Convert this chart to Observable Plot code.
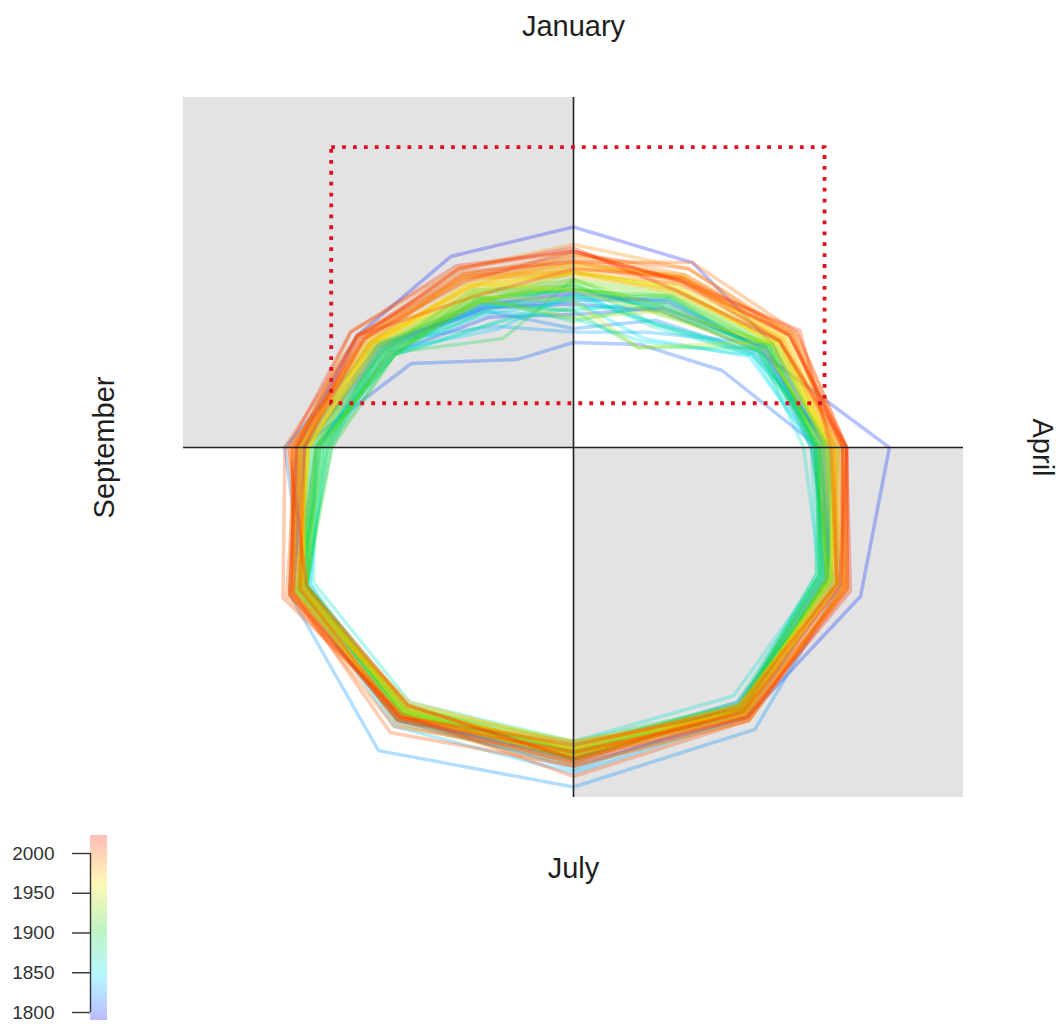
<!DOCTYPE html>
<html>
<head>
<meta charset="utf-8">
<script src="https://cdn.jsdelivr.net/npm/d3@7"></script>
<script src="https://cdn.jsdelivr.net/npm/@observablehq/plot@0.6"></script>
<style>
  html, body { margin: 0; padding: 0; background: #ffffff; }
  #chart { position: relative; width: 1058px; height: 1024px; overflow: hidden;
           font-family: "Liberation Sans", Arial, sans-serif; }
  #main { position: absolute; left: 0; top: 0; }
  #legend { position: absolute; left: 0; top: 826px; }
</style>
</head>
<body>
<div id="chart"><div id="main"></div><div id="legend"></div></div>
<script>
// ---------------- data: radius per month for each sampled year ----------------
const months = ["Jan","Feb","Mar","Apr","May","Jun","Jul","Aug","Sep","Oct","Nov","Dec"];
const years = [1790,1795,1800,1805,1810,1815,1820,1825,1830,1835,
               1840,1845,1850,1855,1860,1865,1870,1875,1880,1885,
               1890,1895,1900,1905,1910,1915,1920,1925,1930,1935,
               1940,1945,1950,1955,1958,1961,1964,1967,1970,1973,
               1976,1979,1982,1985,1988,1991,1994,1997,2000,2003,
               2006,2009,2012,2015,2018];
const jan = [4.4,6.3,4.1,3.8,3.0,4.2,3.4,4.5,3.3,4.3, 4.4,4.2,3.9,3.7,4.3,4.5,4.0,4.7,3.6,4.3,
             4.8,3.9,4.6,4.5,4.5,4.6,4.8,4.7,4.8,5.0, 3.7,4.2,5.0,4.5,5.0,5.2,5.1,5.3,5.0,5.3,
             5.5,4.9,5.1,5.0,5.8,5.2,5.6,5.3,5.5,5.4, 5.3,5.1,5.6,5.6,5.7];
const feb = [4.8,6.1,4.5,4.6,3.4,4.9,4.2,4.6,3.8,4.7, 4.1,3.6,4.9,3.5,4.1,4.0,4.6,4.1,4.8,5.0,
             4.4,3.3,4.5,5.0,4.9,4.7,5.1,5.0,4.6,5.2, 4.5,3.3,5.3,4.4,5.3,5.6,5.2,5.6,5.1,5.5,
             5.6,5.2,5.7,5.4,5.9,5.4,5.7,6.1,5.9,5.6, 5.5,5.6,5.5,5.5,5.2];
const mar = [5.6,5.9,5.5,5.7,4.4,5.6,5.4,5.7,5.9,5.6, 5.3,5.2,5.5,5.3,5.5,5.3,5.6,5.4,5.8,5.5,
             5.8,5.7,5.5,5.9,5.8,5.7,6.0,5.8,5.9,6.1, 5.9,6.1,6.2,5.6,5.9,6.3,6.0,6.2,6.0,6.3,
             6.1,6.1,6.4,6.2,6.5,6.5,6.5,6.6,6.4,6.6, 6.1,6.4,6.7,6.4,6.1];
const apr = [6.5,6.4,8.1,6.2,6.3,6.1,6.6,6.6,6.5,6.3, 6.8,6.2,6.3,6.1,5.9,6.6,6.2,6.2,6.2,6.3,
             6.1,6.4,6.3,6.2,6.3,6.4,6.5,6.3,6.5,6.4, 6.5,6.6,6.5,6.7,6.6,6.8,6.7,6.6,6.6,6.7,
             6.8,6.7,6.9,6.8,6.9,6.7,6.9,7.0,7.0,7.0, 6.9,6.9,6.6,7.0,7.0];
const may = [7.6,7.5,8.5,7.4,7.6,7.7,7.5,7.9,7.8,7.7, 7.6,7.4,7.3,7.2,7.3,7.6,7.4,7.3,7.3,7.2,
             7.6,7.5,7.3,7.5,7.4,7.5,7.6,7.5,7.6,7.5, 7.8,7.8,7.7,7.6,7.7,7.6,7.9,7.8,8.0,7.8,
             8.0,7.7,8.0,7.8,8.1,7.8,8.0,8.1,8.1,8.1, 8.0,7.9,7.8,7.9,8.2];
const jun = [8.6,8.7,8.9,8.5,8.6,8.4,8.6,9.3,8.7,8.9, 8.5,8.8,8.6,8.5,8.2,8.6,8.6,8.4,8.5,8.6,
             8.5,8.7,8.6,8.6,8.5,8.6,8.6,8.7,8.6,8.8, 8.7,8.8,8.8,8.6,8.5,8.8,8.6,8.7,8.9,8.7,
             9.0,8.6,8.9,8.5,8.8,8.5,8.9,8.7,8.9,9.0, 9.0,8.8,8.6,8.7,8.9];
const jul = [8.9,8.8,9.1,8.8,8.9,8.7,9.0,9.7,9.2,9.3, 8.8,8.7,8.8,8.9,8.4,8.8,8.9,8.6,8.6,8.8,
             8.4,8.7,8.9,8.7,8.5,8.6,8.5,8.9,8.7,8.8, 8.6,8.8,8.7,9.0,8.6,8.4,8.8,8.6,8.7,8.8,
             9.1,8.5,8.9,8.6,8.4,9.0,8.9,8.8,8.7,9.1, 9.4,8.7,8.5,8.9,9.0];
const aug = [8.8,9.0,9.0,8.9,9.0,8.8,9.1,10.0,8.9,9.2, 9.0,8.6,8.7,8.9,8.4,8.7,8.8,8.8,8.7,8.6,
             8.6,8.8,8.7,8.5,8.8,8.6,8.5,8.7,8.8,8.7, 8.7,8.9,8.7,9.0,8.6,8.5,8.8,8.6,8.9,8.9,
             9.1,8.4,8.8,8.6,8.9,9.0,8.5,9.2,8.9,9.4, 8.8,9.0,8.9,8.5,8.9];
const sep = [8.0,8.2,8.1,8.2,8.3,7.9,8.0,8.4,7.9,8.1, 7.8,7.9,7.8,7.9,7.7,8.2,7.9,8.0,8.0,7.9,
             8.1,8.2,8.1,7.9,7.9,8.0,8.1,7.9,8.2,8.1, 8.0,8.3,8.0,8.1,8.1,8.0,8.2,7.9,8.3,8.2,
             8.0,8.3,8.4,8.1,8.3,8.4,8.0,8.4,8.5,8.3, 8.6,8.3,8.1,7.9,8.4];
const oct = [6.9,7.1,7.0,6.6,7.0,6.9,7.4,7.1,7.0,6.5, 6.6,6.8,6.4,6.7,6.6,6.4,6.3,6.5,6.2,6.3,
             6.5,6.3,6.6,6.2,6.6,6.4,6.7,6.5,6.8,6.6, 6.8,7.0,6.9,6.8,6.9,7.0,6.8,7.1,7.1,6.8,
             7.0,7.2,7.0,7.3,7.2,7.0,7.1,7.2,7.1,6.9, 7.4,7.2,6.9,7.3,7.1];
const nov = [5.7,6.4,5.8,5.4,4.8,5.6,5.9,5.8,6.0,5.7, 5.5,5.6,5.4,5.3,5.3,5.6,5.3,5.5,5.7,5.5,
             5.4,5.8,5.6,5.3,5.3,5.5,5.6,5.4,5.8,5.9, 5.7,6.0,5.8,6.0,5.9,6.0,6.0,5.9,6.1,5.9,
             6.0,6.1,6.3,6.0,6.2,6.2,6.6,6.4,6.2,6.4, 6.4,6.4,6.2,6.6,6.3];
const dec = [4.7,6.3,4.6,4.3,2.9,4.6,4.5,4.8,4.0,4.6, 3.9,4.4,4.7,4.5,4.1,4.9,4.1,4.5,5.0,4.7,
             3.6,4.8,5.2,4.9,5.1,4.9,4.8,4.8,5.1,4.8, 4.9,5.0,5.0,5.4,5.2,5.1,5.3,5.3,5.3,5.4,
             5.3,5.6,5.5,5.7,5.9,5.6,5.9,5.7,5.7,5.6, 5.8,5.0,5.5,6.0,5.9];

// labels, legend ticks, colours, annotation
const topLabel = ["January"], rightLabel = ["April"], bottomLabel = ["July"], leftLabel = ["September"];
const legendTicks = [1800, 1850, 1900, 1950, 2000];
const yearRange = [1790, 2020];
const rainbow = ["#1010ff", "#00e8ff", "#22d622", "#ffe800", "#ff1a00"];
const highlight = [{x1: -6.2, x2: 6.45, y1: 1.25, y2: 8.57}];
const lim = 10;

// ---------------- build ----------------
const monthly = [jan, feb, mar, apr, may, jun, jul, aug, sep, oct, nov, dec];
const points = [];
years.forEach((year, i) => {
  monthly.forEach((arr, m) => {
    const r = arr[i];
    const a = m * Math.PI / 6;
    points.push({year, month: months[m], x: r * Math.sin(a), y: r * Math.cos(a)});
  });
});

const quadrants = [
  {x1: -lim, x2: 0, y1: 0, y2: lim},
  {x1: 0, x2: lim, y1: -lim, y2: 0}
];

const colorScale = {
  type: "linear",
  domain: d3.quantize(d3.interpolateNumber(yearRange[0], yearRange[1]), rainbow.length),
  range: rainbow,
  interpolate: "rgb"
};

const font = "'Liberation Sans', Arial, sans-serif";
const labelFill = "#1e1e1e";
const lab = {fontSize: 29, textAnchor: "middle", lineAnchor: "middle", text: d => d};

const main = Plot.plot({
  width: 1058, height: 1024,
  marginTop: 97, marginBottom: 227, marginLeft: 183, marginRight: 95,
  x: {domain: [-lim, lim], axis: null},
  y: {domain: [-lim, lim], axis: null},
  color: colorScale,
  style: {fontFamily: font, background: "transparent", color: labelFill},
  marks: [
    Plot.rect(quadrants, {x1: "x1", x2: "x2", y1: "y1", y2: "y2", fill: "#e3e3e3"}),
    Plot.line(points, {x: "x", y: "y", z: "year", stroke: "year", curve: "linear-closed",
                       strokeWidth: 3.5, strokeOpacity: 0.3, strokeLinejoin: "miter"}),
    Plot.ruleX([0], {stroke: "#222", strokeWidth: 1.6}),
    Plot.ruleY([0], {stroke: "#222", strokeWidth: 1.6}),
    Plot.rect(highlight, {x1: "x1", x2: "x2", y1: "y1", y2: "y2", fill: "none",
                          stroke: "#de1020", strokeWidth: 3.8, strokeDasharray: "3.8,7.1"}),
    Plot.text(topLabel, {...lab, frameAnchor: "top", dy: -71}),
    Plot.text(bottomLabel, {...lab, frameAnchor: "bottom", dy: 71}),
    Plot.text(leftLabel, {...lab, frameAnchor: "left", dx: -79, rotate: -90}),
    Plot.text(rightLabel, {...lab, frameAnchor: "right", dx: 79, rotate: 90})
  ]
});
document.getElementById("main").appendChild(main);

// ---------------- vertical colour-bar legend ----------------
const barYears = d3.range(yearRange[0], yearRange[1] + 3);
const legend = Plot.plot({
  width: 130, height: 198,
  marginLeft: 90, marginRight: 23, marginTop: 0, marginBottom: 0,
  x: {domain: [0, 1], axis: null},
  y: {domain: [1800, 2000], range: [186, 27]},
  color: colorScale,
  style: {fontFamily: font, background: "transparent", color: "#333"},
  marks: [
    Plot.rect(barYears, {x1: 0, x2: 1, y1: d => d, y2: d => d + 1, fill: d => d, shapeRendering: "crispEdges"}),
    Plot.ruleX([0], {y1: legendTicks[0], y2: legendTicks[legendTicks.length - 1], stroke: "#333", strokeWidth: 1.4}),
    Plot.axisY(legendTicks, {anchor: "left", tickSize: 18, tickPadding: 18, fontSize: 19,
                             tickFormat: d => String(d), stroke: "#333", strokeWidth: 1.4})
  ]
});
const barGroup = legend.querySelector('g[aria-label="rect"]');
if (barGroup) barGroup.setAttribute("opacity", 0.28);
document.getElementById("legend").appendChild(legend);
</script>
</body>
</html>
